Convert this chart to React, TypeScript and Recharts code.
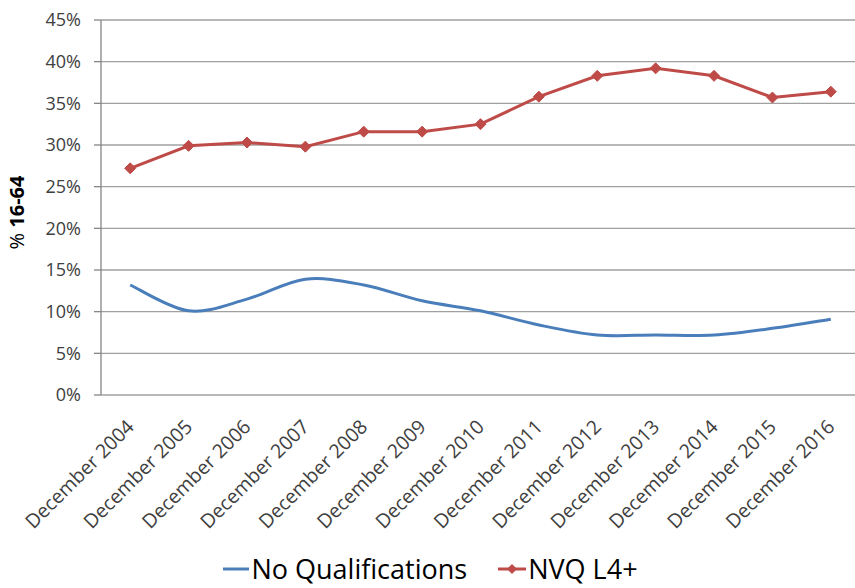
import { LineChart, Line, XAxis, YAxis, CartesianGrid, Legend } from "recharts";

const periods = [
  "December 2004",
  "December 2005",
  "December 2006",
  "December 2007",
  "December 2008",
  "December 2009",
  "December 2010",
  "December 2011",
  "December 2012",
  "December 2013",
  "December 2014",
  "December 2015",
  "December 2016",
];
const noQualifications = [13.2, 10.1, 11.5, 13.9, 13.2, 11.3, 10.1, 8.4, 7.2, 7.2, 7.2, 8.0, 9.1];
const nvqL4 = [27.2, 29.9, 30.3, 29.8, 31.6, 31.6, 32.5, 35.8, 38.3, 39.2, 38.3, 35.7, 36.4];
const yTicks = [0, 5, 10, 15, 20, 25, 30, 35, 40, 45];

const BLUE = "#4a7ebb";
const RED = "#be4b48";
const AXIS = "#868686";
const TEXT = "#404040";
const FONT = "'Open Sans', sans-serif";

const data = periods.map((label, i) => ({
  idx: i,
  label,
  noQual: noQualifications[i],
  nvq: nvqL4[i],
}));

const labelTicks = periods.map((_, i) => i);
const boundaryTicks = [...periods.map((_, i) => i - 0.5), periods.length - 0.5];

// Excel-style smoothed line (Catmull-Rom through the points)
function smoothCurve(context: any) {
  let pts: number[][] = [];
  return {
    areaStart() {},
    areaEnd() {},
    lineStart() {
      pts = [];
    },
    lineEnd() {
      const n = pts.length;
      if (!n) return;
      context.moveTo(pts[0][0], pts[0][1]);
      for (let i = 0; i < n - 1; i++) {
        const p0 = pts[Math.max(i - 1, 0)];
        const p1 = pts[i];
        const p2 = pts[i + 1];
        const p3 = pts[Math.min(i + 2, n - 1)];
        context.bezierCurveTo(
          p1[0] + (p2[0] - p0[0]) / 6,
          p1[1] + (p2[1] - p0[1]) / 6,
          p2[0] - (p3[0] - p1[0]) / 6,
          p2[1] - (p3[1] - p1[1]) / 6,
          p2[0],
          p2[1]
        );
      }
    },
    point(x: number, y: number) {
      pts.push([+x, +y]);
    },
  };
}

function Diamond(props: any) {
  const { cx, cy } = props;
  if (cx == null || cy == null) return null;
  const r = 5.5;
  return (
    <polygon
      points={`${cx},${cy - r} ${cx + r},${cy} ${cx},${cy + r} ${cx - r},${cy}`}
      fill={RED}
      stroke={RED}
    />
  );
}

function SlantTick(props: any) {
  const { x, y, payload } = props;
  return (
    <g transform={`translate(${x + 5},${y + 33})`}>
      <text
        transform="rotate(-45)"
        textAnchor="end"
        fontSize={19.5}
        fontFamily={FONT}
        fill={TEXT}
      >
        {periods[payload.value]}
      </text>
    </g>
  );
}

function YLabel(props: any) {
  const { viewBox } = props;
  const x = viewBox.x + 24;
  const y = viewBox.y + viewBox.height / 2 + 5;
  return (
    <text
      x={x}
      y={y}
      transform={`rotate(-90, ${x}, ${y})`}
      textAnchor="middle"
      fontSize={20}
      fontFamily={FONT}
      fill="#000"
    >
      <tspan>% </tspan>
      <tspan fontWeight="bold">16-64</tspan>
    </text>
  );
}

function LegendBox() {
  return (
    <div
      style={{
        height: 38,
        display: "flex",
        justifyContent: "center",
        alignItems: "center",
        fontFamily: FONT,
        fontSize: 27,
        lineHeight: "30px",
        color: "#000",
        gap: 30,
      }}
    >
      <span style={{ display: "flex", alignItems: "center" }}>
        <svg width={29} height={12}>
          <line x1={1} y1={6} x2={27} y2={6} stroke={BLUE} strokeWidth={3} />
        </svg>
        No Qualifications
      </span>
      <span style={{ display: "flex", alignItems: "center" }}>
        <svg width={31} height={12}>
          <line x1={1} y1={6} x2={29} y2={6} stroke={RED} strokeWidth={3} />
          <polygon points="15,1 20,6 15,11 10,6" fill={RED} />
        </svg>
        NVQ L4+
      </span>
    </div>
  );
}

export default function App() {
  return (
    <div
      style={{
        position: "absolute",
        left: 0,
        top: 0,
        width: 855,
        height: 588,
        overflow: "hidden",
        background: "#fff",
      }}
    >
      <LineChart
        width={870}
        height={588}
        data={data}
        margin={{ top: 20, right: 10, left: 0, bottom: 0 }}
      >
        <CartesianGrid vertical={false} stroke="#a0a0a0" strokeWidth={1.3} />
        <XAxis
          xAxisId="bounds"
          type="number"
          dataKey="idx"
          domain={[-0.5, periods.length - 0.5]}
          ticks={boundaryTicks}
          tick={false}
          tickSize={8}
          tickLine={{ stroke: AXIS, strokeWidth: 1.3 }}
          axisLine={{ stroke: AXIS, strokeWidth: 1.3 }}
          height={0}
          allowDataOverflow
        />
        <XAxis
          type="number"
          dataKey="idx"
          domain={[-0.5, periods.length - 0.5]}
          ticks={labelTicks}
          tick={<SlantTick />}
          tickLine={false}
          axisLine={false}
          tickSize={0}
          tickMargin={0}
          interval={0}
          height={155}
          allowDataOverflow
        />
        <YAxis
          domain={[0, 45]}
          ticks={yTicks}
          tickFormatter={(v) => `${v}%`}
          width={101}
          tickSize={7}
          tickMargin={13}
          tick={{ fontSize: 18, fontFamily: FONT, fill: TEXT }}
          tickLine={{ stroke: AXIS, strokeWidth: 1.3 }}
          axisLine={{ stroke: AXIS, strokeWidth: 1.3 }}
          label={<YLabel />}
        />
        <Legend verticalAlign="bottom" content={<LegendBox />} />
        <Line
          type={smoothCurve as any}
          dataKey="noQual"
          name="No Qualifications"
          stroke={BLUE}
          strokeWidth={3}
          dot={false}
          activeDot={false}
          isAnimationActive={false}
        />
        <Line
          type="linear"
          dataKey="nvq"
          name="NVQ L4+"
          stroke={RED}
          strokeWidth={3}
          dot={<Diamond />}
          activeDot={false}
          isAnimationActive={false}
        />
      </LineChart>
    </div>
  );
}
